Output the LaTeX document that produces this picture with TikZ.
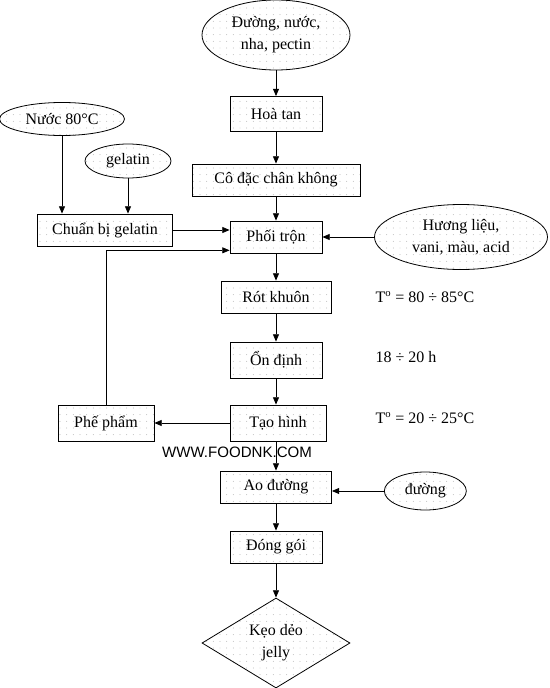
\documentclass[tikz,border=0pt]{standalone}
\usepackage{fontspec}
\setmainfont{Liberation Serif}
\newfontfamily\webfont{Liberation Sans}
\usetikzlibrary{shapes.geometric, arrows.meta, patterns.meta}
\tikzstyle{dotted fill} = [draw=black, line width=0.6pt, pattern={Dots[distance=5pt, radius=0.35pt]}, pattern color=black!35]
\tikzstyle{process} = [rectangle, dotted fill, minimum width=69pt, minimum height=24pt, text centered, inner sep=2pt]
\tikzstyle{io} = [ellipse, dotted fill, text centered, align=center, inner sep=0pt]
\tikzstyle{decision} = [diamond, dotted fill, text centered, align=center, inner sep=0pt, minimum width=111pt, minimum height=67.5pt, aspect=1.6]
\tikzstyle{note} = [anchor=west, inner sep=0pt]
\tikzstyle{arrow} = [line width=0.6pt, -{Triangle[length=5.5pt, width=4.5pt]}]

\begin{document}
\begin{tikzpicture}[x=0.75pt, y=-0.75pt, node distance=45pt, font=\fontsize{12}{16.5}\selectfont]
\useasboundingbox (0,0) rectangle (549,688);
% main line
\node (input) [io, minimum width=111pt, minimum height=52.5pt] at (276,35) {Đường, nước,\\nha, pectin};
\node (hoatan) [process, below of=input, yshift=-14.25pt, minimum height=26.25pt] {Hoà tan};
\node (codac) [process, below of=hoatan, yshift=-4.5pt, minimum width=126pt] {Cô đặc chân không};
\node (phoitron) [process, below of=codac, yshift=2.25pt] {Phối trộn};
\node (rot) [process, below of=phoitron, minimum width=82.5pt] {Rót khuôn};
\node (ondinh) [process, below of=rot, yshift=-2.25pt, minimum height=27pt] {Ổn định};
\node (taohinh) [process, below of=ondinh, yshift=-2.25pt, xshift=1.5pt, minimum width=72pt, minimum height=27pt] {Tạo hình};
\node (ao) [process, below of=taohinh, yshift=-3pt, xshift=-1.5pt, minimum width=83.25pt] {Ao đường};
\node (donggoi) [process, below of=ao] {Đóng gói};
\node (keo) [decision, below of=donggoi, yshift=-27pt] {Kẹo dẻo\\jelly};
% side inputs
\node (nuoc) [io, minimum width=93.75pt, minimum height=24.75pt] at (62,119) {Nước 80°C};
\node (gelatin) [io, minimum width=64.5pt, minimum height=25.5pt] at (128,161) {gelatin};
\node (chuanbi) [process, minimum width=101.25pt] at (105,230) {Chuẩn bị gelatin};
\node (huong) [io, right of=phoitron, xshift=93.75pt, minimum width=129.75pt, minimum height=48.75pt] {Hương liệu,\\vani, màu, acid};
\node (phepham) [process, left of=taohinh, xshift=-84pt, minimum width=72pt, minimum height=27pt] {Phế phẩm};
\node (duong) [io, right of=ao, xshift=67pt, yshift=-3pt, minimum width=61.5pt, minimum height=28.5pt] {đường};
% conditions
\node (trot) [note] at ([xshift=33pt]rot.east) {T\textsuperscript{o} = 80 ÷ 85°C};
\node (tondinh) [note] at ([xshift=39.75pt, yshift=2pt]ondinh.east) {18 ÷ 20 h};
\node (ttaohinh) [note] at ([xshift=36.75pt, yshift=4pt]taohinh.east) {T\textsuperscript{o} = 20 ÷ 25°C};
\coordinate (fb) at ([yshift=-10pt]phoitron.west);

\draw [arrow] (input) -- (hoatan);
\draw [arrow] (hoatan) -- (codac);
\draw [arrow] (codac) -- (phoitron);
\draw [arrow] (phoitron) -- (rot);
\draw [arrow] (rot) -- (ondinh);
\draw [arrow] (ondinh) -- (ondinh |- taohinh.north);
\draw [arrow] (ao |- taohinh.south) -- (ao);
\draw [arrow] (ao) -- (donggoi);
\draw [arrow] (donggoi) -- (keo);
\draw [arrow] (nuoc) -- (nuoc |- chuanbi.north);
\draw [arrow] (gelatin) -- (gelatin |- chuanbi.north);
\draw [arrow] (chuanbi) -- (chuanbi -| phoitron.west);
\draw [arrow] (huong) -- (phoitron);
\draw [arrow] (taohinh) -- (phepham);
\draw [arrow] (phepham) |- (fb);
\draw [arrow] (duong) -- (duong -| ao.east);
\node (web) [font=\webfont\fontsize{11.3}{13}\selectfont] at (237,452) {WWW.FOODNK.COM};
\end{tikzpicture}
\end{document}
